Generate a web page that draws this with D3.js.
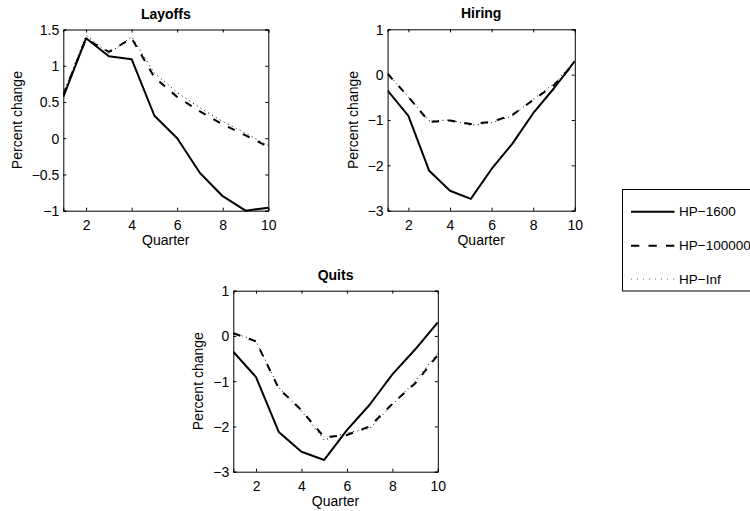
<!DOCTYPE html>
<html><head><meta charset="utf-8">
<script src="https://cdn.jsdelivr.net/npm/d3@7"></script>
<style>
html,body{margin:0;padding:0;background:#fff;}
svg text{font-family:"Liberation Sans",Arial,Helvetica,sans-serif;fill:#000;}
</style></head>
<body>
<script>
// ---- data ----
const quarters = [1,2,3,4,5,6,7,8,9,10];
const seriesNames = ["HP\u22121600","HP\u2212100000","HP\u2212Inf"];

const layoffsHP1600   = [0.57, 1.38, 1.13, 1.09, 0.31, 0.00, -0.48, -0.80, -1.00, -0.96];
const layoffsHP100000 = [0.60, 1.37, 1.19, 1.38, 0.84, 0.57, 0.37, 0.19, 0.04, -0.12];
const layoffsHPInf    = [0.62, 1.42, 1.17, 1.40, 0.90, 0.63, 0.42, 0.23, 0.07, -0.10];

const hiringHP1600    = [-0.35, -0.91, -2.12, -2.56, -2.74, -2.08, -1.52, -0.85, -0.30, 0.30];
const hiringHP100000  = [0.02, -0.49, -1.04, -1.01, -1.09, -1.04, -0.89, -0.56, -0.23, 0.25];
const hiringHPInf     = [0.03, -0.50, -1.02, -1.00, -1.12, -1.06, -0.91, -0.54, -0.20, 0.30];

const quitsHP1600     = [-0.35, -0.91, -2.12, -2.56, -2.74, -2.08, -1.52, -0.85, -0.30, 0.30];
const quitsHP100000   = [0.06, -0.12, -1.16, -1.64, -2.24, -2.19, -2.00, -1.50, -1.05, -0.42];
const quitsHPInf      = [0.08, -0.12, -1.14, -1.66, -2.30, -2.14, -2.05, -1.52, -1.00, -0.38];

const xTicks = [2,4,6,8,10];
const layoffsYTicks = [-1,-0.5,0,0.5,1,1.5];
const hiringYTicks = [-3,-2,-1,0,1];
const quitsYTicks = [-3,-2,-1,0,1];

// ---- layout ----
const W = 750, H = 511;
const svg = d3.select("body").append("svg").attr("width", W).attr("height", H);

const styles = [
  {w:2, dash:null},
  {w:2, dash:"7.5,9"},
  {w:1, dash:"1,3.5"}
];

const panels = [
  {title:"Layoffs", x0:63.3, x1:268.3, y0:29.5, y1:210.7, dom:[-1,1.5], ticks:layoffsYTicks, ylabX:21.6,
   data:[layoffsHP1600, layoffsHP100000, layoffsHPInf]},
  {title:"Hiring", x0:387.6, x1:574.8, y0:29.3, y1:210.7, dom:[-3,1], ticks:hiringYTicks, ylabX:357.6,
   data:[hiringHP1600, hiringHP100000, hiringHPInf]},
  {title:"Quits", x0:233.3, x1:437.8, y0:290.7, y1:471.7, dom:[-3,1], ticks:quitsYTicks, ylabX:202.8,
   data:[quitsHP1600, quitsHP100000, quitsHPInf]}
];

const fmt = v => String(v).replace("-", "\u2212");
const FS = 14;

panels.forEach((p, pi) => {
  const x = d3.scaleLinear().domain([1,10]).range([p.x0, p.x1]);
  const y = d3.scaleLinear().domain(p.dom).range([p.y1, p.y0]);
  const g = svg.append("g");
  const clipId = "clip" + pi;
  svg.append("clipPath").attr("id", clipId).append("rect")
    .attr("x", p.x0).attr("y", p.y0 - 1).attr("width", p.x1 - p.x0).attr("height", p.y1 - p.y0 + 2);

  // lines
  const line = d3.line().x((d,i) => x(quarters[i])).y(d => y(d));
  [2,1,0].forEach(si => {
    g.append("path").datum(p.data[si])
      .attr("clip-path", `url(#${clipId})`)
      .attr("d", line).attr("fill","none")
      .attr("stroke", "#000").attr("stroke-width", styles[si].w)
      .attr("stroke-linejoin","round")
      .attr("stroke-dasharray", styles[si].dash);
  });

  // axes (ticks inside, mirrored)
  const tl = 3;
  const bottom = d3.axisBottom(x).tickValues(xTicks).tickSize(-tl).tickPadding(8).tickFormat(fmt);
  const top = d3.axisTop(x).tickValues(xTicks).tickSize(-tl).tickFormat("");
  const left = d3.axisLeft(y).tickValues(p.ticks).tickSize(-tl).tickPadding(4).tickFormat(fmt);
  const right = d3.axisRight(y).tickValues(p.ticks).tickSize(-tl).tickFormat("");
  const ab = g.append("g").attr("transform",`translate(0,${p.y1})`).call(bottom);
  const at = g.append("g").attr("transform",`translate(0,${p.y0})`).call(top);
  const al = g.append("g").attr("transform",`translate(${p.x0},0)`).call(left);
  const ar = g.append("g").attr("transform",`translate(${p.x1},0)`).call(right);
  [ab,at,al,ar].forEach(a => {
    a.select(".domain").attr("stroke","#000").attr("stroke-width",1);
    a.selectAll(".tick line").attr("stroke","#000").attr("stroke-width",1);
    a.selectAll("text").attr("font-size", FS).attr("font-family","Liberation Sans, Arial, sans-serif").attr("fill","#000");
  });
  ab.selectAll("text").attr("dy", null).attr("y", 19);
  al.selectAll("text").attr("dy","0.35em");

  // title
  g.append("text").attr("x", (p.x0+p.x1)/2).attr("y", p.y0 - 11)
    .attr("text-anchor","middle").attr("font-size", FS).attr("font-weight","bold").text(p.title);
  // xlabel
  g.append("text").attr("x", (p.x0+p.x1)/2).attr("y", p.y1 + 34.3)
    .attr("text-anchor","middle").attr("font-size", FS).text("Quarter");
  // ylabel
  g.append("text").attr("transform", `translate(${p.ylabX},${(p.y0+p.y1)/2}) rotate(-90)`)
    .attr("text-anchor","middle").attr("font-size", FS).text("Percent change");
});

// legend
const lg = svg.append("g");
lg.append("rect").attr("x", 622.5).attr("y", 189.5).attr("width", 140).attr("height", 101.5)
  .attr("fill","#fff").attr("stroke","#000").attr("stroke-width",1);
const rowY = [211.7, 245.7, 279];
seriesNames.forEach((name, i) => {
  lg.append("line").attr("x1", 631).attr("x2", 674.5).attr("y1", rowY[i]).attr("y2", rowY[i])
    .attr("stroke","#000").attr("stroke-width", styles[i].w)
    .attr("stroke-dasharray", i===1 ? "8.3,9.2" : (i===2 ? "1,5" : null))
    .attr("stroke-opacity", i===2 ? 0.6 : 1);
  lg.append("text").attr("x", 679).attr("y", rowY[i]).attr("dy","0.35em")
    .attr("font-size", 13.5).text(name);
});
</script>
</body></html>
